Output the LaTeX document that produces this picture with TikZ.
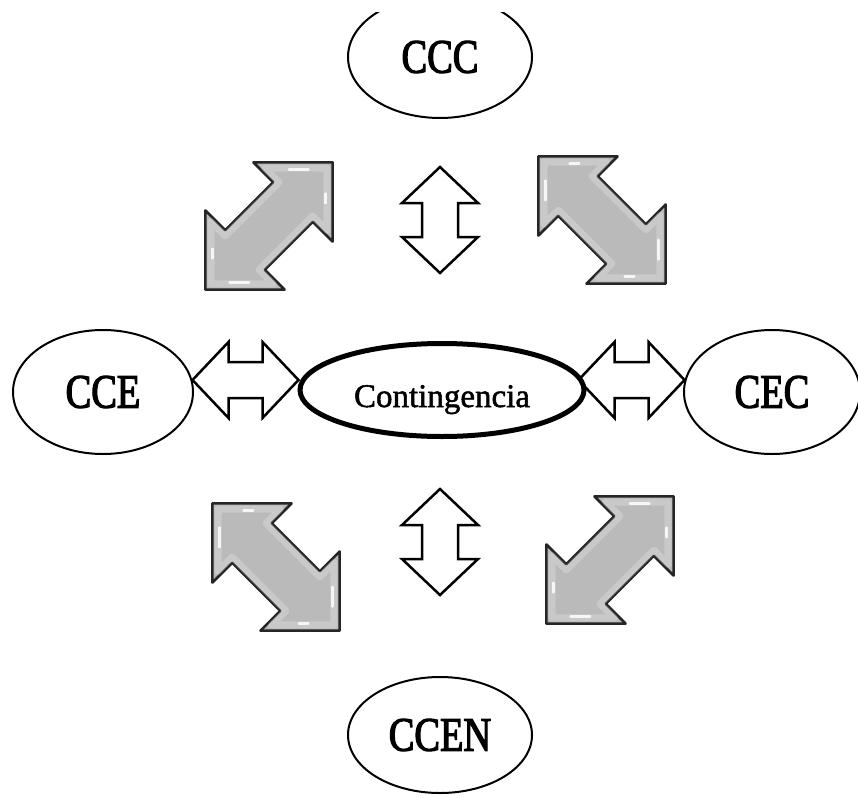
\documentclass[tikz,border=0pt]{standalone}
\usepackage{fontspec}
\setmainfont{Liberation Serif}[FakeBold=1.5]
\newfontfamily\capfont{Liberation Serif}[FakeStretch=0.8,FakeBold=2.5]
\usetikzlibrary{shapes.geometric}
\definecolor{arrowgrey}{RGB}{186,186,186}
\tikzset{
  bubble/.style={ellipse, draw=black, line width=2, fill=white, inner sep=0,
    font=\capfont\fontsize{48}{50}\selectfont},
  hub/.style={ellipse, draw=black, line width=5, fill=white, inner sep=0,
    font=\fontsize{33}{36}\selectfont},
  hollowarrow/.style={draw=black, line width=2.5, fill=white, line join=miter},
  greyarrow/.style={draw=black!85, line width=2.6, fill=arrowgrey, line join=round},
  bevel/.style={draw=white, opacity=0.22, line width=7, line join=round},
  shine/.style={draw=white, line width=2.2, line cap=round, opacity=0.85},
}
% hollow double arrow: centre x, centre y, angle
\newcommand\hollowdbl[3]{%
  \begin{scope}[shift={(#1,#2)}, rotate=#3]
    \draw[hollowarrow] (-53,0) -- (-17,38) -- (-17,18) -- (17,18) -- (17,38) -- (53,0)
      -- (17,-38) -- (17,-18) -- (-17,-18) -- (-17,-38) -- cycle;
  \end{scope}}
% grey bevelled double arrow: centre x, centre y, angle
\newcommand\greydbl[3]{%
  \begin{scope}[shift={(#1,#2)}, rotate=#3]
    \draw[greyarrow] (-90,0) -- (-34,56) -- (-34,28) -- (34,28) -- (34,56) -- (90,0)
      -- (34,-56) -- (34,-28) -- (-34,-28) -- (-34,-56) -- cycle;
    \draw[bevel]
      (-82,0) -- (-38,44) -- (-38,24) -- (38,24) -- (38,44) -- (82,0)
      -- (38,-44) -- (38,-24) -- (-38,-24) -- (-38,-44) -- cycle;
    \draw[shine] (68,-12) -- (54,-26);
    \draw[shine] (63,17) -- (56,24);
    \draw[shine] (-68,12) -- (-54,26);
    \draw[shine] (-63,-17) -- (-56,-24);
  \end{scope}}
\begin{document}
\begin{tikzpicture}[x=1pt,y=-1pt]
  \useasboundingbox (0,0) rectangle (858,797);
  % grey diagonal arrows
  \greydbl{269}{226}{45}
  \greydbl{602}{220}{-45}
  \greydbl{276}{567}{-45}
  \greydbl{610}{560}{45}
  % hollow arrows
  \hollowdbl{440}{220}{90}
  \hollowdbl{440}{542}{90}
  \hollowdbl{245.5}{380}{0}
  \hollowdbl{631.5}{380}{0}
  % nodes
  \begin{scope}
    \clip (0,13) rectangle (858,797);
    \node[bubble, minimum width=184, minimum height=122] (ccc) at (440,57) {CCC};
  \end{scope}
  \node[bubble, minimum width=180, minimum height=124] (cce) at (103,392) {CCE};
  \node[bubble, minimum width=176, minimum height=124] (cec) at (772,392) {CEC};
  \node[bubble, minimum width=184, minimum height=116] (ccen) at (440,735) {CCEN};
  \node[hub, minimum width=284, minimum height=93] (cont) at (442,390)
    {\raisebox{-17pt}[15pt][15pt]{Contingencia}};
\end{tikzpicture}
\end{document}
